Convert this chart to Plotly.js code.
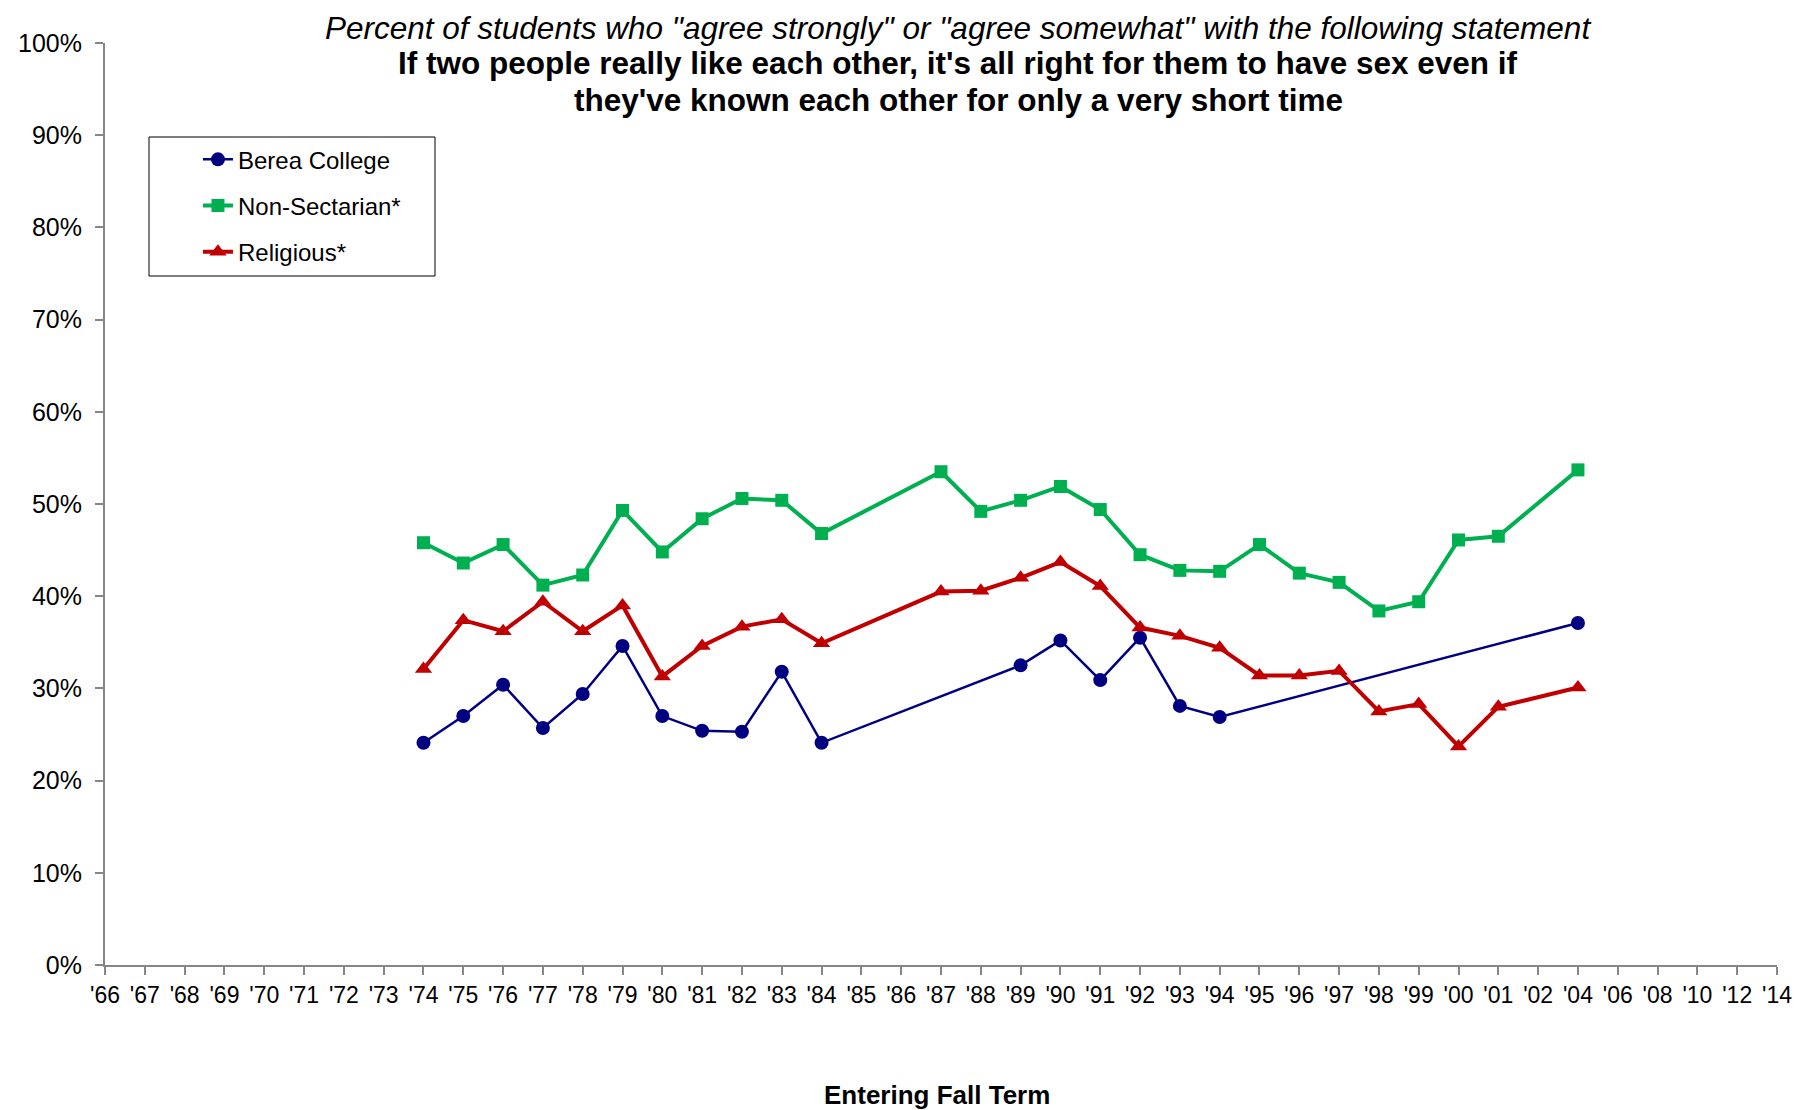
<!DOCTYPE html>
<html>
<head>
<meta charset="utf-8">
<script src="https://cdn.plot.ly/plotly-3.0.1.min.js"></script>
<style>html,body{margin:0;padding:0;background:#fff;}#chart{width:1798px;height:1110px;}</style>
</head>
<body>
<div id="chart"></div>
<script>
// Category tick labels
var categories = ["'66","'67","'68","'69","'70","'71","'72","'73","'74","'75","'76","'77","'78","'79","'80","'81","'82","'83","'84","'85","'86","'87","'88","'89","'90","'91","'92","'93","'94","'95","'96","'97","'98","'99","'00","'01","'02","'04","'06","'08","'10","'12","'14"];

// Berea College
var bereaYears = ["'74","'75","'76","'77","'78","'79","'80","'81","'82","'83","'84","'89","'90","'91","'92","'93","'94","'04"];
var bereaValues = [24.1, 27.0, 30.4, 25.7, 29.4, 34.6, 27.0, 25.4, 25.3, 31.8, 24.1, 32.5, 35.2, 30.9, 35.5, 28.1, 26.9, 37.1];

// Non-Sectarian*
var nonSecYears = ["'74","'75","'76","'77","'78","'79","'80","'81","'82","'83","'84","'87","'88","'89","'90","'91","'92","'93","'94","'95","'96","'97","'98","'99","'00","'01","'04"];
var nonSecValues = [45.8, 43.6, 45.6, 41.2, 42.3, 49.3, 44.8, 48.4, 50.6, 50.4, 46.8, 53.5, 49.2, 50.4, 51.9, 49.4, 44.5, 42.8, 42.7, 45.6, 42.5, 41.5, 38.4, 39.4, 46.1, 46.5, 53.7];

// Religious*
var relYears = ["'74","'75","'76","'77","'78","'79","'80","'81","'82","'83","'84","'87","'88","'89","'90","'91","'92","'93","'94","'95","'96","'97","'98","'99","'00","'01","'04"];
var relValues = [32.1, 37.4, 36.2, 39.4, 36.2, 39.0, 31.3, 34.6, 36.7, 37.5, 34.9, 40.5, 40.6, 42.0, 43.7, 41.1, 36.6, 35.7, 34.4, 31.4, 31.4, 31.9, 27.5, 28.3, 23.7, 28.0, 30.1];

var seriesNames = ["Berea College", "Non-Sectarian*", "Religious*"];
var yTickVals = [0,10,20,30,40,50,60,70,80,90,100];
var yTickText = ["0%","10%","20%","30%","40%","50%","60%","70%","80%","90%","100%"];

var titleLine1 = "Percent of students who \"agree strongly\" or \"agree somewhat\" with the following statement";
var titleLine2 = "If two people really like each other, it's all right for them to have sex even if";
var titleLine3 = "they've known each other for only a very short time";
var xTitle = "Entering Fall Term";

var FONT = "Liberation Sans, Arial, sans-serif";

var traces = [
  {x: bereaYears, y: bereaValues, name: seriesNames[0], type: 'scatter', mode: 'lines+markers',
   legendgroup: 'a',
   line: {color: '#000080', width: 2.5}, marker: {symbol: 'circle', size: 14, color: '#000080'}},
  {x: nonSecYears, y: nonSecValues, name: seriesNames[1], type: 'scatter', mode: 'lines+markers',
   legendgroup: 'b',
   line: {color: '#00B050', width: 4}, marker: {symbol: 'square', size: 13, color: '#00B050'}},
  {x: relYears, y: relValues, name: seriesNames[2], type: 'scatter', mode: 'lines+markers',
   legendgroup: 'c',
   line: {color: '#C00000', width: 4}, marker: {symbol: 'triangle-up', size: 15, color: '#C00000'}}
];

var layout = {
  width: 1798, height: 1110,
  paper_bgcolor: '#fff', plot_bgcolor: '#fff',
  margin: {l: 105, r: 21, t: 43, b: 145},
  font: {family: FONT, color: '#000', size: 22},
  showlegend: true,
  legend: {
    x: 0.0556, y: 0.8978, xanchor: 'left', yanchor: 'top',
    borderwidth: 0, bgcolor: 'rgba(0,0,0,0)',
    font: {family: FONT, size: 24, color: '#000'},
    tracegroupgap: 12, traceorder: 'grouped'
  },
  shapes: [
    {type: 'rect', xref: 'paper', yref: 'paper',
     x0: (149-105)/1672, x1: (435-105)/1672, y0: (965-276)/922, y1: (965-137)/922,
     line: {color: '#000', width: 1}, fillcolor: '#fff', layer: 'below'}
  ],
  annotations: [
    {text: '<i>' + titleLine1 + '</i>', xref: 'paper', yref: 'paper', x: 0.5102, y: (965-27.5)/922,
     xanchor: 'center', yanchor: 'middle', showarrow: false, font: {family: FONT, size: 31.5, color: '#000'}},
    {text: '<b>' + titleLine2 + '</b>', xref: 'paper', yref: 'paper', x: 0.5102, y: (965-63)/922,
     xanchor: 'center', yanchor: 'middle', showarrow: false, font: {family: FONT, size: 31.5, color: '#000'}},
    {text: '<b>' + titleLine3 + '</b>', xref: 'paper', yref: 'paper', x: 0.5102, y: (965-100)/922,
     xanchor: 'center', yanchor: 'middle', showarrow: false, font: {family: FONT, size: 31.5, color: '#000'}},
    {text: '<b>' + xTitle + '</b>', xref: 'paper', yref: 'paper', x: (937-105)/1672, y: (965-1095)/922,
     xanchor: 'center', yanchor: 'middle', showarrow: false, font: {family: FONT, size: 26, color: '#000'}}
  ],
  xaxis: {
    type: 'category', categoryorder: 'array', categoryarray: categories,
    tickvals: categories, ticktext: categories,
    range: [0, categories.length - 1],
    showgrid: false, zeroline: false,
    showline: true, linecolor: '#868686', linewidth: 2,
    ticks: 'outside', ticklen: 8, tickcolor: '#868686', tickwidth: 1.5,
    tickfont: {family: FONT, size: 23, color: '#000'},
    tickangle: 0
  },
  yaxis: {
    range: [0, 100], tickmode: 'array', tickvals: yTickVals, ticktext: yTickText,
    showgrid: false, zeroline: false,
    showline: true, linecolor: '#868686', linewidth: 2,
    ticks: 'outside', ticklen: 8, tickcolor: '#868686', tickwidth: 1.5,
    ticklabelstandoff: 8,
    tickfont: {family: FONT, size: 25, color: '#000'}
  }
};

Plotly.newPlot('chart', traces, layout, {displayModeBar: false, responsive: false});
</script>
</body>
</html>
